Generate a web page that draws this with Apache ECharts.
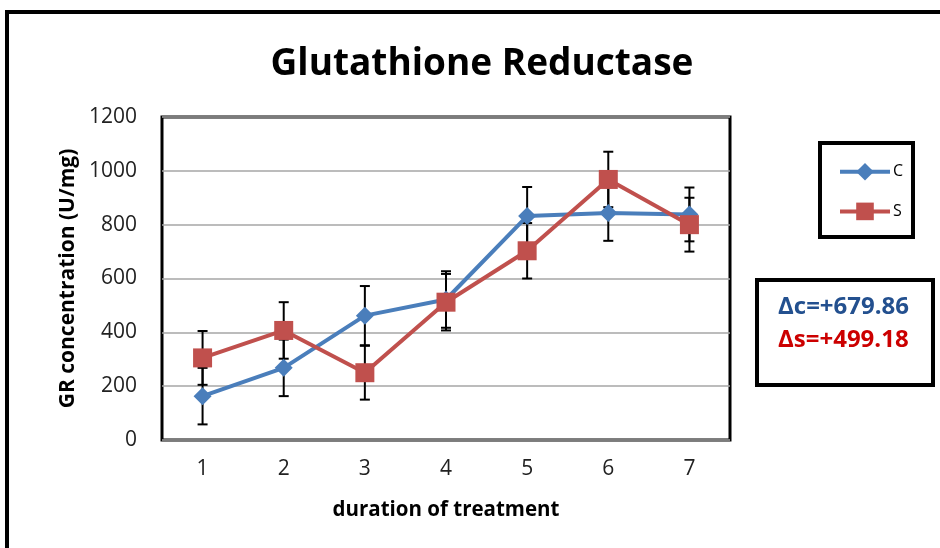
<!DOCTYPE html>
<html><head><meta charset="utf-8">
<script src="https://cdn.jsdelivr.net/npm/echarts@6/dist/echarts.min.js"></script>
<style>html,body{margin:0;padding:0;background:#fff}#c{width:940px;height:548px}</style>
</head><body><div id="c"></div>
<script>
const categories = ['1','2','3','4','5','6','7'];
const cValues = [163, 268, 462, 522, 832, 843, 838];
const sValues = [305, 407, 250, 512, 703, 968, 800];
const cErr = [105, 105, 110, 105, 108, 103, 100];
const sErr = [100, 105, 100, 105, 103, 103, 100];
const yTicks = [0, 200, 400, 600, 800, 1000, 1200];
const deltaC = 'Δc=+679.86';
const deltaS = 'Δs=+499.18';

const FONT = 'Open Sans';
const chart = echarts.init(document.getElementById('c'));

function errItem(params, api) {
  const x = api.value(0), y = api.value(1), e = api.value(2);
  const t = api.coord([x, y + e]);
  const b = api.coord([x, y - e]);
  const h = 5;
  const st = {stroke: '#000', lineWidth: 2};
  return {type: 'group', children: [
    {type: 'line', shape: {x1: t[0], y1: t[1], x2: b[0], y2: b[1]}, style: st},
    {type: 'line', shape: {x1: t[0]-h, y1: t[1], x2: t[0]+h, y2: t[1]}, style: st},
    {type: 'line', shape: {x1: b[0]-h, y1: b[1], x2: b[0]+h, y2: b[1]}, style: st}
  ]};
}

chart.setOption({
  animation: false,
  backgroundColor: '#fff',
  title: {
    text: 'Glutathione Reductase', left: 477, textAlign: 'center', top: 41,
    textStyle: {fontFamily: FONT, fontWeight: 'bold', fontSize: 37, color: '#000'}
  },
  legend: {
    data: ['C', 'S'], orient: 'vertical', left: 833, top: 158,
    itemWidth: 50, itemHeight: 22, itemGap: 22,
    lineStyle: {width: 4},
    textStyle: {fontFamily: FONT, fontSize: 16, color: '#000', padding: [0,0,0,-2]}
  },
  grid: {
    left: 162, top: 117, right: 210, bottom: 108, show: true,
    borderColor: '#000', borderWidth: 3, backgroundColor: '#fff'
  },
  xAxis: {
    type: 'category', data: categories, boundaryGap: true,
    axisLine: {show: false}, axisTick: {show: false},
    axisLabel: {fontFamily: FONT, fontSize: 21, color: '#222', margin: 19},
    name: 'duration of treatment', nameLocation: 'middle', nameGap: 60,
    nameTextStyle: {fontFamily: FONT, fontWeight: 'bold', fontSize: 20.5, color: '#000'}
  },
  yAxis: {
    type: 'value', min: yTicks[0], max: yTicks[yTicks.length-1], interval: 200,
    axisLine: {show: false}, axisTick: {show: false},
    splitLine: {lineStyle: {color: '#A6A6A6', width: 1.5}},
    axisLabel: {fontFamily: FONT, fontSize: 21, color: '#222', margin: 25,
      formatter: v => String(v)},
    name: 'GR concentration (U/mg)', nameLocation: 'middle', nameGap: 83, nameRotate: 90,
    nameTextStyle: {fontFamily: FONT, fontWeight: 'bold', fontSize: 21, color: '#000'}
  },
  series: [
    {type: 'custom', name: 'errC', renderItem: errItem, z: 1,
     data: cValues.map((v, i) => [i, v, cErr[i]])},
    {type: 'custom', name: 'errS', renderItem: errItem, z: 1,
     data: sValues.map((v, i) => [i, v, sErr[i]])},
    {type: 'line', name: 'C', data: cValues, z: 3, symbol: 'diamond', symbolSize: 18,
     lineStyle: {color: '#4A7EBB', width: 4}, itemStyle: {color: '#4A7EBB'}},
    {type: 'line', name: 'S', data: sValues, z: 4, symbol: 'rect', symbolSize: 19,
     lineStyle: {color: '#C0504D', width: 4}, itemStyle: {color: '#C0504D'}}
  ],
  graphic: [
    {type: 'rect', shape: {x: 7, y: 12, width: 1000, height: 600},
     style: {fill: 'none', stroke: '#000', lineWidth: 4}, z: 10},
    {type: 'rect', shape: {x: 820, y: 143, width: 93, height: 94},
     style: {fill: 'none', stroke: '#000', lineWidth: 4}, z: 10},
    {type: 'rect', shape: {x: 757, y: 280, width: 176, height: 105},
     style: {fill: 'none', stroke: '#000', lineWidth: 4}, z: 10},
    {type: 'text', x: 778, y: 307, z: 10,
     style: {text: deltaC, fill: '#23508F', font: 'bold 24px ' + FONT, textVerticalAlign: 'middle'}},
    {type: 'text', x: 778, y: 340, z: 10,
     style: {text: deltaS, fill: '#CC0000', font: 'bold 24px ' + FONT, textVerticalAlign: 'middle'}}
  ]
});
</script></body></html>
